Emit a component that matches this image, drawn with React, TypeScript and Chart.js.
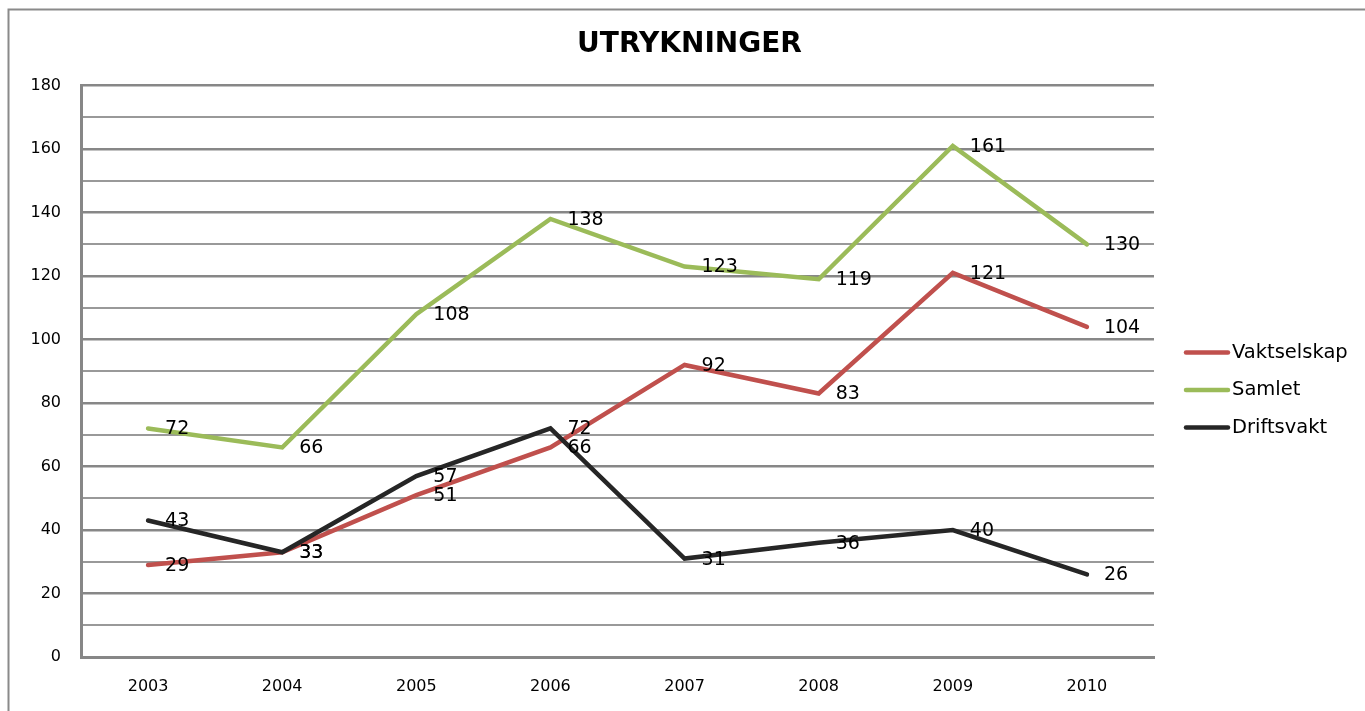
import React, { useEffect, useRef } from "react";
import { Chart, registerables } from "chart.js";

Chart.register(...registerables);

const categories = ["2003", "2004", "2005", "2006", "2007", "2008", "2009", "2010"];
const seriesNames = ["Vaktselskap", "Samlet", "Driftsvakt"];
const vaktselskap = [29, 33, 51, 66, 92, 83, 121, 104];
const samlet = [72, 66, 108, 138, 123, 119, 161, 130];
const driftsvakt = [43, 33, 57, 72, 31, 36, 40, 26];
const seriesColors = ["#C0504D", "#9BBB59", "#262626"];
const yTickLabels = [0, 20, 40, 60, 80, 100, 120, 140, 160, 180];
const titleText = "UTRYKNINGER";

const FONT = "'DejaVu Sans', sans-serif";

const framePlugin = {
  id: "frame",
  beforeDraw(chart: any) {
    const { ctx, width, height } = chart;
    ctx.save();
    ctx.fillStyle = "#ffffff";
    ctx.fillRect(0, 0, width, height);
    ctx.strokeStyle = "#8a8a8a";
    ctx.lineWidth = 2;
    ctx.beginPath();
    ctx.moveTo(8.5, height);
    ctx.lineTo(8.5, 9.5);
    ctx.lineTo(width, 9.5);
    ctx.stroke();
    ctx.restore();
  },
};

const valueLabelPlugin = {
  id: "valueLabels",
  afterDatasetsDraw(chart: any) {
    const { ctx } = chart;
    ctx.save();
    ctx.font = `19px ${FONT}`;
    ctx.fillStyle = "#000000";
    ctx.textAlign = "left";
    ctx.textBaseline = "middle";
    chart.data.datasets.forEach((ds: any, i: number) => {
      const meta = chart.getDatasetMeta(i);
      meta.data.forEach((pt: any, j: number) => {
        ctx.fillText(String(ds.data[j]), pt.x + 17, pt.y + 1);
      });
    });
    ctx.restore();
  },
};

const customLegendPlugin = {
  id: "customLegend",
  afterDraw(chart: any) {
    const { ctx, chartArea } = chart;
    const x0 = chartArea.right + 30;
    const y0 = chartArea.top + 267;
    ctx.save();
    ctx.font = `19.5px ${FONT}`;
    ctx.textAlign = "left";
    ctx.textBaseline = "middle";
    chart.data.datasets.forEach((ds: any, i: number) => {
      const y = y0 + i * 37.5;
      ctx.strokeStyle = ds.borderColor;
      ctx.lineWidth = 4.5;
      ctx.lineCap = "round";
      ctx.beginPath();
      ctx.moveTo(x0 + 2, y);
      ctx.lineTo(x0 + 44, y);
      ctx.stroke();
      ctx.fillStyle = "#000000";
      ctx.fillText(ds.label, x0 + 48, y);
    });
    ctx.restore();
  },
};

export default function App() {
  const canvasRef = useRef<HTMLCanvasElement | null>(null);

  useEffect(() => {
    if (!canvasRef.current) return;
    const seriesData = [vaktselskap, samlet, driftsvakt];
    const chart = new Chart(canvasRef.current, {
      type: "line",
      data: {
        labels: categories,
        datasets: seriesNames.map((name, i) => ({
          label: name,
          data: seriesData[i],
          borderColor: seriesColors[i],
          backgroundColor: seriesColors[i],
          borderWidth: 4.5,
          pointRadius: 0,
          pointHoverRadius: 0,
          tension: 0,
          fill: false,
          borderCapStyle: "round",
          borderJoinStyle: "miter",
          order: seriesNames.length - i,
        })),
      },
      options: {
        responsive: false,
        animation: false,
        events: [],
        layout: { padding: { left: 14, right: 0, top: 0, bottom: 0 } },
        plugins: {
          legend: { display: false },
          tooltip: { enabled: false },
          title: {
            display: true,
            text: titleText,
            color: "#000000",
            font: { family: FONT, size: 28, weight: "bold" },
            padding: { top: 28, bottom: 24 },
          },
        },
        scales: {
          x: {
            type: "category",
            offset: true,
            grid: { display: false, drawTicks: false },
            border: { display: true, color: "#878787", width: 3 },
            ticks: {
              color: "#000000",
              font: { family: FONT, size: 16 },
              padding: 20,
              maxRotation: 0,
            },
            afterFit(scale: any) {
              scale.height = 54;
            },
          },
          y: {
            min: 0,
            max: 180,
            position: "left",
            grid: {
              drawTicks: false,
              color: (c: any) => (c.tick && yTickLabels.includes(c.tick.value) ? "#878787" : "#999999"),
              lineWidth: (c: any) => (c.tick && yTickLabels.includes(c.tick.value) ? 2.5 : 2),
            },
            border: { display: true, color: "#878787", width: 3 },
            ticks: {
              stepSize: 10,
              color: "#000000",
              font: { family: FONT, size: 16 },
              padding: 20,
              callback: (v: any) => (yTickLabels.includes(Number(v)) ? String(v) : ""),
            },
            afterFit(scale: any) {
              scale.width = 67;
            },
          },
          yRight: {
            position: "right",
            display: true,
            min: 0,
            max: 180,
            grid: { display: false, drawTicks: false },
            border: { display: false },
            ticks: { display: false },
            afterFit(scale: any) {
              scale.width = 211;
            },
          },
        },
      } as any,
      plugins: [framePlugin, valueLabelPlugin, customLegendPlugin],
    });
    return () => chart.destroy();
  }, []);

  return (
    <div style={{ position: "absolute", left: 0, top: 0, width: 1365, height: 711 }}>
      <canvas ref={canvasRef} width={1365} height={711} />
    </div>
  );
}
